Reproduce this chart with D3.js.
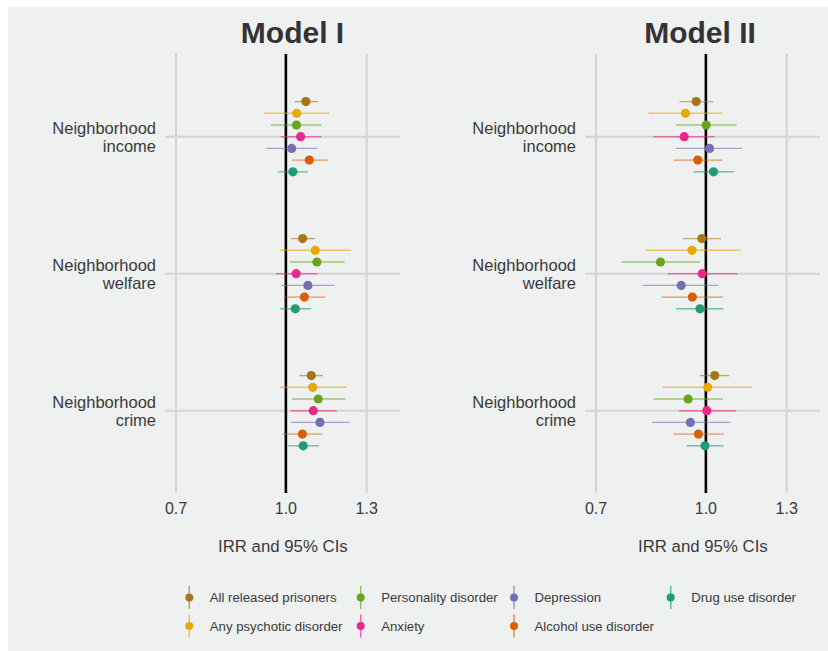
<!DOCTYPE html>
<html>
<head>
<meta charset="utf-8">
<script src="https://cdn.jsdelivr.net/npm/d3@7"></script>
<style>
  html, body { margin: 0; padding: 0; background: #ffffff; }
  svg { display: block; font-family: "Liberation Sans", Arial, sans-serif; }
</style>
</head>
<body>
<svg id="chart" width="828" height="651"></svg>
<script>
// ---------------- DATA ----------------
const models = ["Model I", "Model II"];
const categories = ["Neighborhood\nincome", "Neighborhood\nwelfare", "Neighborhood\ncrime"];
const seriesNames = ["All released prisoners", "Any psychotic disorder", "Personality disorder",
                     "Anxiety", "Depression", "Alcohol use disorder", "Drug use disorder"];
const seriesColors = ["#A6761D", "#E6AB02", "#66A61E", "#E7298A", "#7570B3", "#D95F02", "#1B9E77"];
const tickValues = [0.7, 1.0, 1.3];
const tickLabels = ["0.7", "1.0", "1.3"];

// IRR estimates [category][series] per model
const model1IRR = [
  [1.067, 1.036, 1.035, 1.049, 1.019, 1.079, 1.023],
  [1.056, 1.100, 1.106, 1.034, 1.074, 1.062, 1.031],
  [1.086, 1.091, 1.111, 1.093, 1.117, 1.055, 1.058]
];
const model1Low = [
  [1.029, 0.931, 0.953, 0.983, 0.939, 1.020, 0.974],
  [1.016, 0.980, 1.014, 0.969, 0.987, 0.994, 0.981],
  [1.045, 0.980, 1.020, 1.016, 1.016, 0.989, 1.007]
];
const model1High = [
  [1.110, 1.152, 1.122, 1.122, 1.108, 1.145, 1.074],
  [1.098, 1.236, 1.210, 1.108, 1.171, 1.137, 1.086],
  [1.128, 1.219, 1.214, 1.179, 1.230, 1.126, 1.114]
];
const model2IRR = [
  [0.969, 0.936, 1.001, 0.932, 1.012, 0.974, 1.025],
  [0.987, 0.956, 0.863, 0.988, 0.923, 0.957, 0.981],
  [1.029, 1.006, 0.944, 1.003, 0.951, 0.976, 0.997]
];
const model2Low = [
  [0.918, 0.830, 0.907, 0.844, 0.907, 0.900, 0.961],
  [0.928, 0.822, 0.760, 0.883, 0.815, 0.866, 0.908],
  [0.980, 0.869, 0.844, 0.917, 0.839, 0.900, 0.939]
];
const model2High = [
  [1.024, 1.055, 1.105, 1.029, 1.125, 1.055, 1.095],
  [1.050, 1.119, 0.982, 1.109, 1.042, 1.057, 1.059],
  [1.079, 1.163, 1.057, 1.103, 1.083, 1.059, 1.059]
];

// ---------------- LAYOUT ----------------
const svg = d3.select("#chart");
const textColor = "#3a3a3a";
svg.append("rect").attr("x", 8).attr("y", 7).attr("width", 820).attr("height", 644).attr("fill", "#eff0f0");

const panels = [
  { title: models[0], irr: model1IRR, lo: model1Low, hi: model1High, left: 165, right: 400, r0: 176, r1: 366.7, labelX: 156, titleX: 292.5 },
  { title: models[1], irr: model2IRR, lo: model2Low, hi: model2High, left: 585, right: 820, r0: 596, r1: 786.7, labelX: 576, titleX: 700 }
];
const plotTop = 54, plotBottom = 493;

const yCat = d3.scaleBand().domain(categories).range([68.2, 479.2]).padding(0);
const ySer = d3.scalePoint().domain(seriesNames).range([-35.1, 35.1]);
const color = d3.scaleOrdinal().domain(seriesNames).range(seriesColors);

panels.forEach(p => {
  const g = svg.append("g");
  const x = d3.scaleLog().domain([0.7, 1.3]).range([p.r0, p.r1]);
  const cy = c => yCat(c) + yCat.bandwidth() / 2;

  // title
  g.append("text").attr("x", p.titleX).attr("y", 43)
    .attr("text-anchor", "middle").attr("font-size", 30).attr("font-weight", "bold")
    .attr("fill", "#333333").text(p.title);

  // vertical grid (0.7, 1.3)
  g.selectAll("line.vg").data(tickValues.filter(v => v !== 1.0)).enter().append("line")
    .attr("x1", d => x(d)).attr("x2", d => x(d))
    .attr("y1", plotTop).attr("y2", plotBottom)
    .attr("stroke", "#d4d4d4").attr("stroke-width", 2);

  // horizontal grid at categories
  g.selectAll("line.hg").data(categories).enter().append("line")
    .attr("x1", p.left).attr("x2", p.right)
    .attr("y1", d => cy(d)).attr("y2", d => cy(d))
    .attr("stroke", "#d4d4d4").attr("stroke-width", 2);

  // reference line at 1
  g.append("line").attr("x1", x(1.0)).attr("x2", x(1.0))
    .attr("y1", plotTop).attr("y2", plotBottom)
    .attr("stroke", "#000").attr("stroke-width", 2.6);

  // category labels
  categories.forEach(c => {
    const lines = c.split("\n");
    const t = g.append("text").attr("text-anchor", "end").attr("font-size", 16.5).attr("fill", textColor);
    lines.forEach((ln, i) => {
      t.append("tspan").attr("x", p.labelX).attr("y", cy(c) - 3 + i * 18).text(ln);
    });
  });

  // points
  const pts = [];
  categories.forEach((c, ci) => seriesNames.forEach((s, si) => {
    pts.push({ c, s, v: p.irr[ci][si], lo: p.lo[ci][si], hi: p.hi[ci][si] });
  }));
  g.selectAll("line.ci").data(pts).enter().append("line")
    .attr("x1", d => x(d.lo)).attr("x2", d => x(d.hi))
    .attr("y1", d => cy(d.c) + ySer(d.s)).attr("y2", d => cy(d.c) + ySer(d.s))
    .attr("stroke", d => color(d.s)).attr("stroke-width", 1.4).attr("stroke-opacity", 0.6);
  g.selectAll("circle.pt").data(pts).enter().append("circle")
    .attr("cx", d => x(d.v)).attr("cy", d => cy(d.c) + ySer(d.s)).attr("r", 4.6)
    .attr("fill", d => color(d.s));

  // tick labels
  g.selectAll("text.tick").data(tickValues).enter().append("text")
    .attr("x", d => x(d)).attr("y", 514).attr("text-anchor", "middle")
    .attr("font-size", 16).attr("fill", textColor)
    .text((d, i) => tickLabels[i]);

  // axis title
  g.append("text").attr("x", x(1.0) - 3).attr("y", 552).attr("text-anchor", "middle")
    .attr("font-size", 16.8).attr("fill", textColor).text("IRR and 95% CIs");
});

// ---------------- LEGEND ----------------
const leg = svg.append("g");
const nRows = 2;
const legendColX = [189.3, 360.7, 514, 670.7];
const rowY = [597.5, 626];
seriesNames.forEach((s, idx) => {
  const col = Math.floor(idx / nRows), row = idx % nRows;
  const cx = legendColX[col], y = rowY[row];
  leg.append("line").attr("x1", cx).attr("x2", cx).attr("y1", y - 11.5).attr("y2", y + 11.5)
    .attr("stroke", color(s)).attr("stroke-width", 1.4).attr("stroke-opacity", 0.7);
  leg.append("circle").attr("cx", cx).attr("cy", y).attr("r", 4).attr("fill", color(s));
  leg.append("text").attr("x", cx + 20.5).attr("y", y + 4.7)
    .attr("font-size", 13.2).attr("fill", textColor).text(s);
});
</script>
</body>
</html>
